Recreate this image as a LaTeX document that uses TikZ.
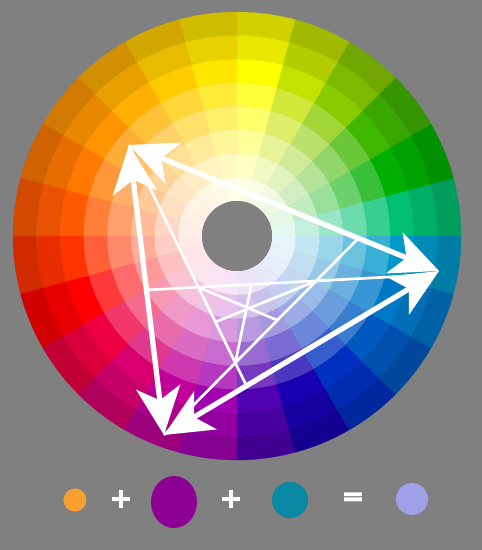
\documentclass[tikz,border=0pt]{standalone}
\usepackage{fontspec}
\usetikzlibrary{arrows.meta,calc,shapes.geometric}
\newfontfamily\signfont[FakeBold=7]{DejaVu Sans}
\definecolor{backgray}{HTML}{808080}
\definecolor{hue0}{HTML}{00C070}
\definecolor{hue1}{HTML}{00B000}
\definecolor{hue2}{HTML}{40B800}
\definecolor{hue3}{HTML}{88CC00}
\definecolor{hue4}{HTML}{C4E200}
\definecolor{hue5}{HTML}{FFFF00}
\definecolor{hue6}{HTML}{FFE600}
\definecolor{hue7}{HTML}{FFCC00}
\definecolor{hue8}{HTML}{FFB000}
\definecolor{hue9}{HTML}{FF9400}
\definecolor{hue10}{HTML}{FF7800}
\definecolor{hue11}{HTML}{FF5A00}
\definecolor{hue12}{HTML}{FF3300}
\definecolor{hue13}{HTML}{FF0000}
\definecolor{hue14}{HTML}{EE0040}
\definecolor{hue15}{HTML}{D80070}
\definecolor{hue16}{HTML}{C00098}
\definecolor{hue17}{HTML}{A000B0}
\definecolor{hue18}{HTML}{5000B0}
\definecolor{hue19}{HTML}{1800B0}
\definecolor{hue20}{HTML}{0030C0}
\definecolor{hue21}{HTML}{0058C0}
\definecolor{hue22}{HTML}{0078C8}
\definecolor{hue23}{HTML}{0098C8}
\definecolor{paintorange}{HTML}{F7A030}
\definecolor{paintpurple}{HTML}{8C0094}
\definecolor{paintteal}{HTML}{0888A4}
\definecolor{paintmix}{HTML}{A0A0E8}
\begin{document}
\begin{tikzpicture}[x=0.5mm,y=-0.5mm,
		>={Stealth[length=24mm,width=22mm,inset=6.5mm]},
		mixline/.style={white,line width=7.5pt,<->},
		cevian/.style={white,line width=3.8pt},
		paint/.style={circle,inner sep=0pt},
		sign/.style={white,inner sep=0pt,font=\signfont\fontsize{36pt}{36pt}\selectfont}]
	\fill[backgray] (0,0) rectangle (482,550);
	\begin{scope}[shift={(237,236)},yscale=-1]
		\foreach \k in {0,...,23} {
			\pgfmathsetmacro{\a}{15*\k}
			\pgfmathsetmacro{\b}{15*\k+15}
			\foreach \ring/\tone in {0/!82!black,1/!91!black,2/!100!black,3/!78!white,4/!58!white,5/!40!white,6/!24!white,7/!10!white} {
				\pgfmathsetmacro{\ro}{224-23.6*\ring}
				\pgfmathsetmacro{\ri}{\ro-23.6}
				\filldraw[fill=hue\k\tone,draw=hue\k\tone,line width=0.3pt] (\a:\ri) -- (\a:\ro) arc[start angle=\a,end angle=\b,radius=\ro] -- (\b:\ri) arc[start angle=\b,end angle=\a,radius=\ri] -- cycle;
			}
		}
		\fill[backgray] (0,0) circle[radius=35];
	\end{scope}
	\coordinate (A) at (129,145);
	\coordinate (B) at (439,271);
	\coordinate (C) at (164,435);
	\coordinate (Bend) at (426,275);
	\coordinate (M) at ($(A)!0.5!(C)$);
	\coordinate (P) at ($(B)!0.7!(C)$);
	\coordinate (Q) at ($(A)!0.74!(B)$);
	\coordinate (I1) at (intersection of A--P and M--Bend);
	\coordinate (I2) at (intersection of M--Bend and C--Q);
	\coordinate (I3) at (intersection of A--P and C--Q);
	\coordinate (J1) at ($(I2)!0.48!(I3)$);
	\coordinate (J2) at ($(I1)!0.46!(I3)$);
	\coordinate (J3) at ($(I1)!0.45!(I2)$);
	\draw[cevian] (A) -- (P);
	\draw[cevian] (M) -- (Bend);
	\draw[cevian] (C) -- (Q);
	\draw[cevian] (I1) -- (J1);
	\draw[cevian] (I2) -- (J2);
	\draw[cevian] (I3) -- (J3);
	\draw[mixline] (A) -- (B);
	\draw[mixline] (A) -- (C);
	\draw[mixline] (B) -- (C);
	\node[paint,fill=paintorange,minimum size=11.5mm] (orange) at (75,500) {};
	\node[sign] (plusA) at (121,499) {+};
	\node[paint,ellipse,fill=paintpurple,minimum width=23mm,minimum height=26mm] (purple) at (174,502) {};
	\node[sign] (plusB) at (231,499) {+};
	\node[paint,fill=paintteal,minimum size=18mm] (teal) at (290,500) {};
	\node[sign] (equal) at (353,499) {=};
	\node[paint,fill=paintmix,minimum size=16mm] (mix) at (412,499) {};
\end{tikzpicture}
\end{document}
